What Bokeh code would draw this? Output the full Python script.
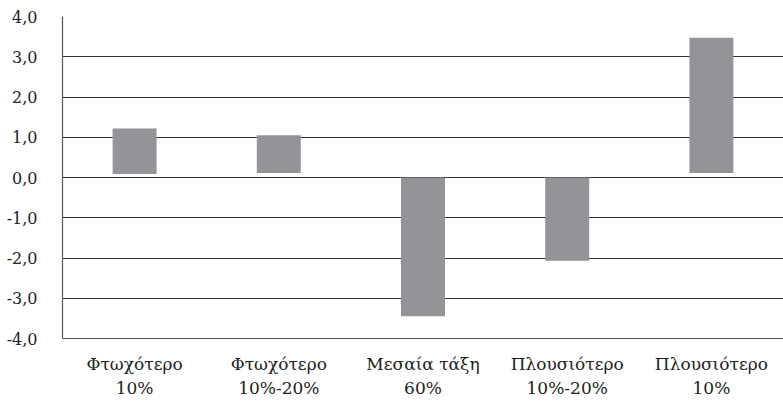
from bokeh.plotting import figure
from bokeh.models import FactorRange, Range1d, FixedTicker, ColumnDataSource
from bokeh.embed import file_html
from bokeh.resources import INLINE

groups = ["Φτωχότερο", "Φτωχότερο", "Μεσαία τάξη", "Πλουσιότερο", "Πλουσιότερο"]
shares = ["10%", "10%-20%", "60%", "10%-20%", "10%"]
bar_bottom = [0.09, 0.11, 0.0, 0.0, 0.11]
bar_top = [1.22, 1.05, -3.45, -2.07, 3.47]
y_ticks = [-4, -3, -2, -1, 0, 1, 2, 3, 4]
y_tick_labels = ["-4,0", "-3,0", "-2,0", "-1,0", "0,0", "1,0", "2,0", "3,0", "4,0"]

factors = [g + "\n" + s for g, s in zip(groups, shares)]
src = ColumnDataSource(dict(x=factors, bottom=bar_bottom, top=bar_top))

FONT = "'DejaVu Serif', serif"

p = figure(x_range=FactorRange(*factors, range_padding=0), y_range=Range1d(-4, 4),
           frame_width=721, frame_height=322,
           min_border_left=62, min_border_right=0, min_border_top=16, min_border_bottom=56,
           output_backend="svg", toolbar_location=None)

p.vbar(x="x", bottom="bottom", top="top", width=0.305, source=src,
       fill_color="#939498", line_color=None)

p.outline_line_color = None
p.background_fill_color = "white"
p.border_fill_color = "white"

p.xgrid.grid_line_color = None
p.ygrid.grid_line_color = "#333333"
p.ygrid.grid_line_width = 1.2
p.yaxis.ticker = FixedTicker(ticks=y_ticks)
p.yaxis.major_label_overrides = {t: l for t, l in zip(y_ticks, y_tick_labels)}
p.yaxis.major_tick_line_color = None
p.yaxis.minor_tick_line_color = None
p.yaxis.axis_line_color = "#555555"
p.yaxis.axis_line_width = 1.2
p.yaxis.major_label_standoff = 19
p.yaxis.major_label_text_font = FONT
p.yaxis.major_label_text_font_size = "16px"
p.yaxis.major_label_text_color = "#222222"

p.xaxis.major_tick_line_color = None
p.xaxis.axis_line_color = "#555555"
p.xaxis.axis_line_width = 1.2
p.xaxis.major_label_standoff = 9
p.xaxis.major_label_text_font = FONT
p.xaxis.major_label_text_font_size = "17px"
p.xaxis.major_label_text_color = "#222222"

open("out.html", "w").write(file_html(p, INLINE))
